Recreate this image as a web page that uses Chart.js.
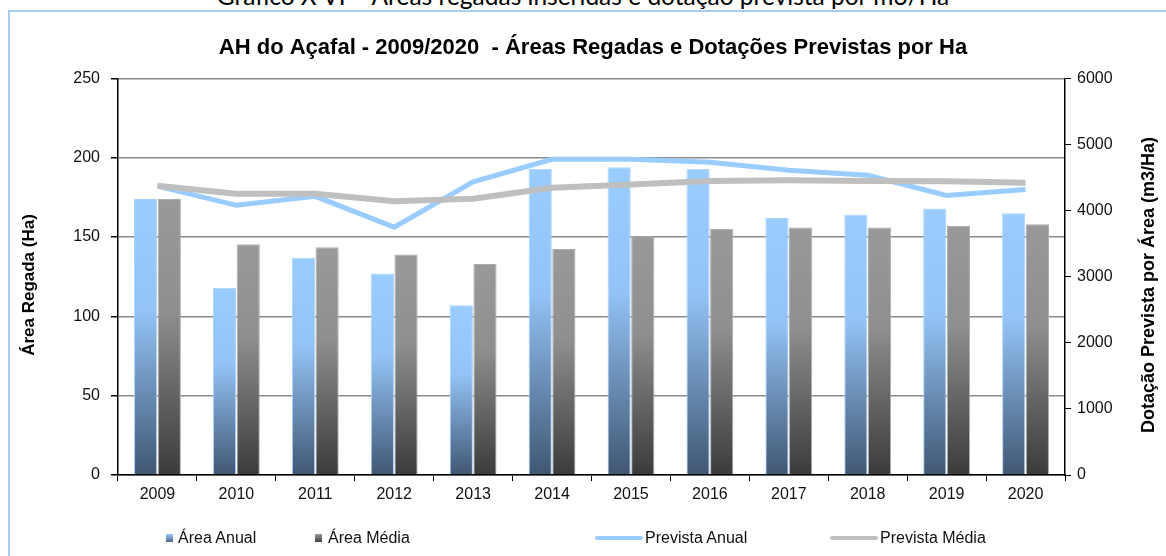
<!DOCTYPE html>
<html>
<head>
<meta charset="utf-8">
<script src="https://cdn.jsdelivr.net/npm/chart.js@4"></script>
<style>
  body { margin: 0; background: #fff; width: 1166px; height: 556px; overflow: hidden; position: relative; font-family: "Liberation Sans", Arial, sans-serif; }
  #cap { position: absolute; left: 0; width: 1166px; top: -19px; text-align: center; font-family: Lato, sans-serif; font-size: 24.5px; color: #000; white-space: nowrap; }
  #frame { position: absolute; left: 8px; top: 10px; width: 1170px; height: 560px; border-left: 2px solid #a8cdf2; border-top: 2px solid #a8cdf2; }
  #wrap { position: absolute; left: 0; top: 0; width: 1166px; height: 556px; }
  .lg { position: absolute; top: 529px; font-size: 16px; color: #111; white-space: nowrap; line-height: 18px; }
  .mk { position: absolute; }
  .ytitle { position: absolute; width: 400px; height: 20px; line-height: 20px; margin-left: -200px; margin-top: -10px; text-align: center; font-weight: bold; color: #000; white-space: nowrap; transform: rotate(-90deg); }
</style>
</head>
<body>
<div id="cap">Gráfico X VI – Áreas regadas inseridas e dotação prevista por m3/Ha</div>
<div id="frame"></div>
<div id="wrap"><canvas id="myChart" width="1166" height="556"></canvas></div>
<div id="leftTitle" class="ytitle" style="left:29px; top:285px; font-size:17px;"></div>
<div id="rightTitle" class="ytitle" style="left:1148px; top:285px; font-size:18px;"></div>
<div id="legend"></div>
<script>
// values
const years = ['2009', '2010', '2011', '2012', '2013', '2014', '2015', '2016', '2017', '2018', '2019', '2020']
const areaAnual = [174, 118, 137, 127, 107, 193, 194, 193, 162, 164, 168, 165]
const areaMedia = [174, 145.5, 143.5, 139, 133, 142.5, 150.5, 155, 156, 156, 157, 158]
const previstaAnual = [4370, 4080, 4215, 3750, 4435, 4775, 4775, 4730, 4610, 4535, 4230, 4320]
const previstaMedia = [4375, 4255, 4255, 4140, 4180, 4345, 4395, 4448, 4458, 4448, 4443, 4423]
const areaTicks = [0, 50, 100, 150, 200, 250]
const dotTicks = [0, 1000, 2000, 3000, 4000, 5000, 6000]
const leftTitle = 'Área Regada (Ha)'
const rightTitle = 'Dotação Prevista por Área (m3/Ha)'

const FONT = '"Liberation Sans", Arial, sans-serif'

// per-bar vertical gradient, like the excel fill
function barFill(top, bottom) {
    return function(c) {
        const chart = c.chart
        if (c.type !== 'data' || !chart.scales.y) return top[0]
        const y = chart.scales.y
        const y0 = y.getPixelForValue(c.raw)
        const y1 = y.getPixelForValue(0)
        if (!isFinite(y0) || y1 - y0 < 1) return top[0]
        const g = chart.ctx.createLinearGradient(0, y0, 0, y1)
        g.addColorStop(0, top[0])
        g.addColorStop(0.4, top[1])
        g.addColorStop(1, bottom)
        return g
    }
}

const ctx = document.getElementById('myChart')

var myChart = new Chart(ctx, {
    type: 'bar',
    data: {
        labels: years,
        datasets: [{
            label: 'Área Anual',
            data: areaAnual,
            yAxisID: 'y',
            backgroundColor: barFill(['#99CCFF', '#94C4F7'], '#405773'),
            borderColor: '#a9d3ff',
            borderWidth: 1,
            categoryPercentage: 0.6,
            barPercentage: 0.98,
            order: 3
        }, {
            label: 'Área Média',
            data: areaMedia,
            yAxisID: 'y',
            backgroundColor: barFill(['#999999', '#8f8f8f'], '#3b3b3b'),
            borderColor: '#adadad',
            borderWidth: 1,
            categoryPercentage: 0.6,
            barPercentage: 0.98,
            order: 3
        }, {
            type: 'line',
            label: 'Prevista Anual',
            data: previstaAnual,
            yAxisID: 'y1',
            borderColor: '#99CCFF',
            borderWidth: 5,
            pointRadius: 0,
            tension: 0,
            order: 2
        }, {
            type: 'line',
            label: 'Prevista Média',
            data: previstaMedia,
            yAxisID: 'y1',
            borderColor: '#BFBFBF',
            borderWidth: 6,
            pointRadius: 0,
            tension: 0,
            order: 1
        }]
    },
    options: {
        responsive: false,
        animation: false,
        layout: { padding: { left: 20, right: 0, top: 0, bottom: 0 } },
        plugins: {
            legend: { display: false },
            tooltip: { enabled: false },
            title: {
                display: true,
                text: 'AH do Açafal - 2009/2020  - Áreas Regadas e Dotações Previstas por Ha',
                color: '#000',
                font: { family: FONT, size: 22, weight: 'bold' },
                padding: { top: 35, bottom: 17 }
            }
        },
        scales: {
            x: {
                offset: true,
                grid: { display: true, drawOnChartArea: false, offset: true, tickColor: '#000', tickLength: 6 },
                border: { color: '#000', width: 1.5 },
                ticks: { color: '#111', font: { family: FONT, size: 16 }, padding: 4, maxRotation: 0 },
                afterFit: function(s) { s.height = 81 }
            },
            y: {
                position: 'left',
                min: 0,
                max: 250,
                afterBuildTicks: function(s) { s.ticks = areaTicks.map(v => ({ value: v })) },
                grid: { color: '#8a8a8a', lineWidth: 1.5, tickColor: '#000', tickLength: 7 },
                border: { color: '#000', width: 1.5 },
                ticks: { color: '#111', font: { family: FONT, size: 16 }, padding: 11 },
                afterFit: function(s) { s.width = 98 }
            },
            y1: {
                position: 'right',
                min: 0,
                max: 6000,
                afterBuildTicks: function(s) { s.ticks = dotTicks.map(v => ({ value: v })) },
                grid: { drawOnChartArea: false, tickColor: '#000', tickLength: 6 },
                border: { color: '#000', width: 1.5 },
                ticks: {
                    color: '#111',
                    font: { family: FONT, size: 16 },
                    padding: 6,
                    callback: function(v) { return String(v) }
                },
                afterFit: function(s) { s.width = 101 }
            }
        }
    }
})

// axis titles read bottom-to-top on both sides, so they are html
document.getElementById('leftTitle').textContent = leftTitle
document.getElementById('rightTitle').textContent = rightTitle

// legend drawn as html so it can sit where excel put it
const legendPos = [
    { mark: 166, text: 178 },
    { mark: 315, text: 328 },
    { mark: 595, text: 645 },
    { mark: 830, text: 880 }
]
const legend = document.getElementById('legend')
myChart.data.datasets.forEach((ds, i) => {
    const p = legendPos[i]
    const mk = document.createElement('div')
    mk.className = 'mk'
    if (ds.type === 'line') {
        mk.style.left = p.mark + 'px'
        mk.style.top = '536px'
        mk.style.width = '48px'
        mk.style.height = '4px'
        mk.style.borderRadius = '2px'
        mk.style.background = ds.borderColor
    } else {
        mk.style.left = p.mark + 'px'
        mk.style.top = '534px'
        mk.style.width = '7px'
        mk.style.height = '8px'
        mk.style.background = i === 0 ? 'linear-gradient(#99CCFF, #4a6585)' : 'linear-gradient(#9a9a9a, #3d3d3d)'
    }
    legend.appendChild(mk)
    const t = document.createElement('div')
    t.className = 'lg'
    t.style.left = p.text + 'px'
    t.textContent = ds.label
    legend.appendChild(t)
})
</script>
</body>
</html>
